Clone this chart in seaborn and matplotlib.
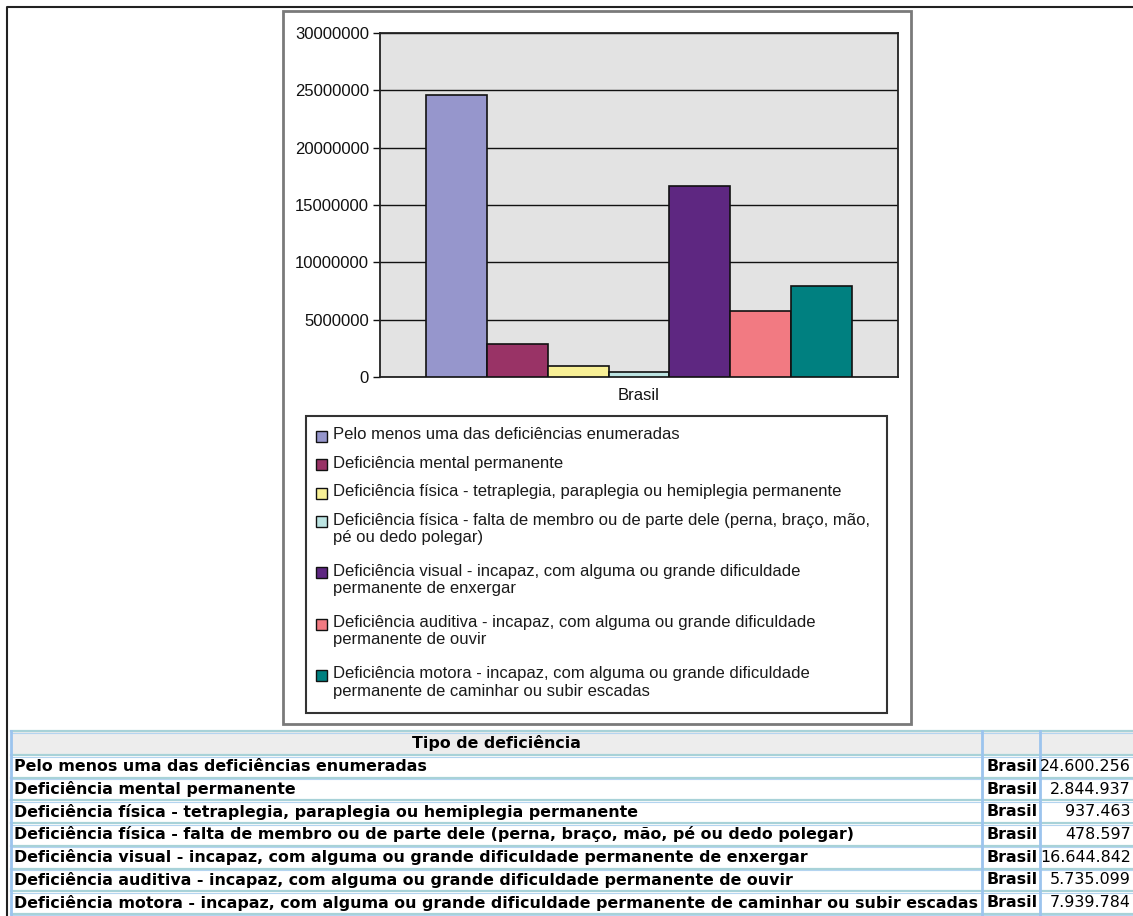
import pandas as pd
import matplotlib.pyplot as plt
import seaborn as sns
from matplotlib.patches import Rectangle
from matplotlib.ticker import FuncFormatter

# Dados: pessoas com deficiência, Brasil
local = "Brasil"
tipos = [
    "Pelo menos uma das deficiências enumeradas",
    "Deficiência mental permanente",
    "Deficiência física - tetraplegia, paraplegia ou hemiplegia permanente",
    "Deficiência física - falta de membro ou de parte dele (perna, braço, mão,\npé ou dedo polegar)",
    "Deficiência visual - incapaz, com alguma ou grande dificuldade\npermanente de enxergar",
    "Deficiência auditiva - incapaz, com alguma ou grande dificuldade\npermanente de ouvir",
    "Deficiência motora - incapaz, com alguma ou grande dificuldade\npermanente de caminhar ou subir escadas",
]
valores = [24600256, 2844937, 937463, 478597, 16644842, 5735099, 7939784]
cores = ["#9696CC", "#993366", "#F8F096", "#BCE4E2", "#5E2781", "#F27A82", "#008080"]
yticks = [0, 5000000, 10000000, 15000000, 20000000, 25000000, 30000000]

df = pd.DataFrame({"local": local, "tipo": tipos, "valor": valores})

W, H = 1133, 916
plt.rcParams["font.family"] = ["Liberation Sans", "DejaVu Sans"]
fig = plt.figure(figsize=(W / 100, H / 100), dpi=100)

# camada de fundo em pixels
bg = fig.add_axes([0, 0, 1, 1])
bg.set_xlim(0, W)
bg.set_ylim(H, 0)
bg.axis("off")

bg.plot([7, 7, W], [H, 7, 7], color="#222222", lw=1.5)
bg.add_patch(Rectangle((283, 11), 628, 713, facecolor="white", edgecolor="#7a7a7a", lw=2))

# grafico de barras
ax = fig.add_axes([380 / W, 1 - 377 / H, (898 - 380) / W, (377 - 33) / H])
ax.set_facecolor("#E3E3E3")
sns.barplot(data=df, x="local", y="valor", hue="tipo", hue_order=tipos,
            palette=cores, saturation=1, width=0.822, gap=0,
            edgecolor="#111111", linewidth=1.2, legend=False, ax=ax, zorder=3)
ax.set_xlim(-0.5, 0.5)
ax.set_ylim(0, 30000000)
ax.set_yticks(yticks)
ax.yaxis.set_major_formatter(FuncFormatter(lambda v, p: f"{int(v)}"))
ax.yaxis.grid(True, color="#111111", lw=1)
ax.set_axisbelow(True)
ax.set_xlabel("")
ax.set_ylabel("")
for s in ax.spines.values():
    s.set_color("#222222")
    s.set_linewidth(1.3)
ax.tick_params(axis="y", length=5, width=1, direction="out", labelsize=12, pad=3, colors="#111111")
ax.tick_params(axis="x", length=0, labelsize=12, pad=8, colors="#111111")

# legenda
bg.add_patch(Rectangle((306, 416), 581, 297, facecolor="white", edgecolor="#333333", lw=1.5))
y = 436
for tipo, cor in zip(tipos, cores):
    bg.add_patch(Rectangle((316, y - 5.5), 11, 11, facecolor=cor, edgecolor="#111111", lw=1))
    bg.text(333, y - 9, tipo, fontsize=12, va="top", ha="left", color="#1a1a1a", linespacing=1.2)
    y += 28.6 + 22.5 * tipo.count("\n")

# tabela
tfont = dict(family="DejaVu Sans", fontsize=11.4, color="black")
top, hh, rh = 731, 24, 22.7
bg.add_patch(Rectangle((11, top), W - 11, hh, facecolor="#EDEDED", edgecolor="none"))
bg.text(496, top + hh / 2, "Tipo de deficiência", ha="center", va="center", fontweight="bold", **tfont)
for i, (tipo, v) in enumerate(zip(tipos, valores)):
    yc = top + hh + rh * (i + 0.5)
    bg.text(14, yc, tipo.replace("\n", " "), ha="left", va="center", fontweight="bold", **tfont)
    bg.text(986, yc, local, ha="left", va="center", fontweight="bold", **tfont)
    bg.text(1131, yc, f"{v:,}".replace(",", "."), ha="right", va="center", **tfont)
for i in range(len(tipos) + 2):
    yl = top if i == 0 else top + hh + rh * (i - 1)
    bg.plot([11, W], [yl, yl], color="#A8D2D8", lw=1.6)
    bg.plot([11, W], [yl + 1.5, yl + 1.5], color="#B4D4F0", lw=0.8)
for xl in [11, 982, 1040]:
    bg.plot([xl, xl], [top, H], color="#9CC4EE", lw=2)

fig.savefig("out.png", dpi=100)
